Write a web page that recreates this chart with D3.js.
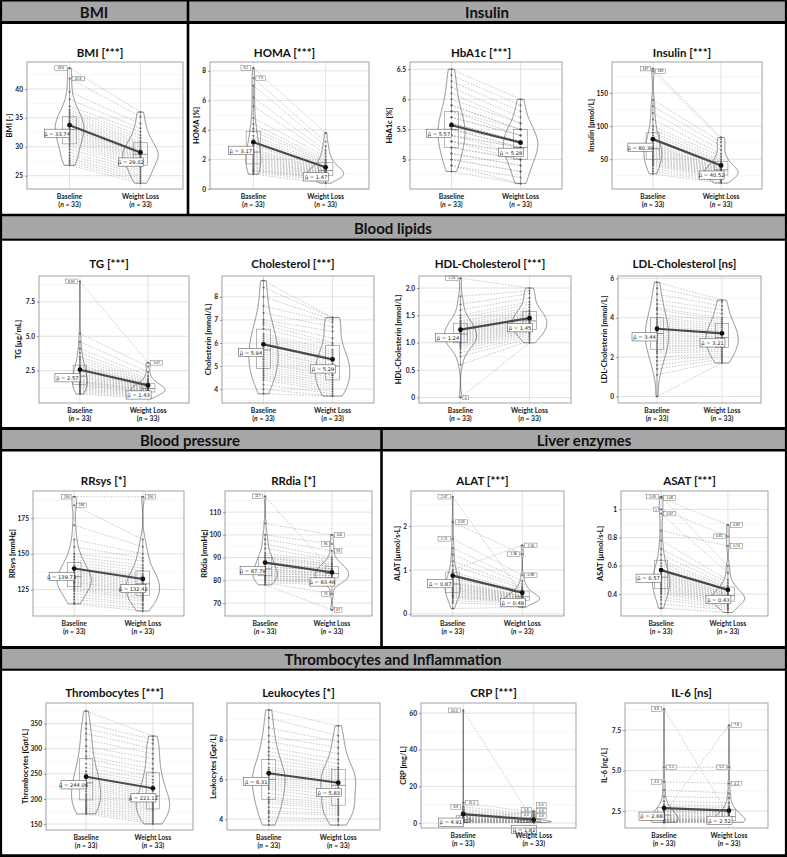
<!DOCTYPE html>
<html><head><meta charset="utf-8">
<script src="https://cdn.jsdelivr.net/npm/d3@7"></script>
<style>body{margin:0;background:#fff}svg{display:block}</style>
</head><body><svg id="c" width="787" height="857"></svg>
<script>
// ---------------- DATA ----------------
const groups = ["Baseline", "Weight Loss"];
const nPerGroup = [33, 33];

const bmiBase = [43.6,41.8,39.5,38.2,37.0,36.4,36.0,35.6,35.2,34.9,34.6,34.3,34.0,33.8,33.5,33.2,33.0,32.7,32.4,32.1,31.8,31.5,31.2,30.9,30.5,30.1,29.6,29.0,28.5,28.0,27.6,27.2,26.8];
const bmiWL   = [36.0,35.2,34.0,33.2,32.6,32.0,31.5,31.0,30.7,30.4,30.1,29.8,29.5,29.3,29.1,28.9,28.7,28.5,28.3,28.1,27.9,27.7,27.4,27.1,26.8,26.5,26.1,25.7,25.3,24.9,24.5,24.1,23.7];
const homaBase = [8.2,7.5,7.0,6.2,5.6,4.8,4.4,4.1,3.9,3.6,3.4,3.2,3.0,2.9,2.7,2.6,2.5,2.4,2.3,2.2,2.1,2.0,1.9,1.8,1.7,1.6,1.5,1.4,1.3,1.25,1.2,1.1,1.0];
const homaWL   = [3.8,3.2,2.9,2.6,2.4,2.2,2.0,1.9,1.8,1.7,1.6,1.5,1.45,1.4,1.35,1.3,1.25,1.2,1.15,1.1,1.05,1.0,1.0,0.95,0.9,0.9,0.85,0.8,0.8,0.75,0.7,0.6,0.4];
const hba1cBase = [6.5,6.4,6.3,6.2,6.1,6.0,5.9,5.9,5.8,5.8,5.7,5.7,5.6,5.6,5.6,5.5,5.5,5.5,5.4,5.4,5.4,5.3,5.3,5.3,5.2,5.2,5.1,5.1,5.0,5.0,4.9,4.9,4.8];
const hba1cWL   = [6.0,5.9,5.8,5.7,5.6,5.6,5.5,5.5,5.5,5.4,5.4,5.4,5.3,5.3,5.3,5.3,5.2,5.2,5.2,5.2,5.1,5.1,5.1,5.0,5.0,5.0,4.9,4.9,4.8,4.8,4.7,4.6,4.6];
const insBase = [187,183,140,130,120,110,100,95,90,86,82,78,75,72,70,68,66,64,62,60,58,56,54,52,50,48,46,44,42,40,36,32,28];
const insWL   = [83,80,76,70,64,58,54,50,47,45,43,41,39,37,36,35,34,33,32,31,30,29,28,27,26,25,24,23,22,20,18,16,14];
const tgBase = [8.99,5.2,4.6,4.1,3.8,3.5,3.3,3.1,2.9,2.8,2.7,2.6,2.5,2.4,2.3,2.2,2.1,2.0,1.9,1.8,1.75,1.7,1.65,1.6,1.5,1.45,1.4,1.3,1.2,1.1,1.0,0.9,0.8];
const tgWL   = [3.07,2.8,2.4,2.1,1.9,1.8,1.7,1.6,1.55,1.5,1.45,1.4,1.35,1.3,1.3,1.25,1.2,1.2,1.15,1.1,1.1,1.05,1.0,1.0,0.95,0.9,0.9,0.85,0.8,0.75,0.7,0.6,0.5];
const cholBase = [8.7,8.4,8.0,7.6,7.3,7.0,6.9,6.8,6.6,6.4,6.3,6.2,6.1,6.0,5.9,5.8,5.7,5.6,5.5,5.4,5.3,5.2,5.1,5.0,4.9,4.8,4.7,4.6,4.5,4.4,4.2,4.0,3.8];
const cholWL   = [7.1,7.1,7.0,6.9,6.7,6.5,6.2,6.0,5.9,5.7,5.6,5.5,5.4,5.3,5.2,5.1,5.0,5.0,4.9,4.8,4.7,4.6,4.6,4.5,4.4,4.3,4.2,4.1,4.0,3.9,3.8,3.7,3.7];
const hdlBase = [2.18,1.85,1.7,1.6,1.5,1.45,1.4,1.38,1.35,1.32,1.3,1.28,1.25,1.22,1.2,1.18,1.16,1.14,1.12,1.1,1.08,1.06,1.04,1.02,1.0,0.98,0.95,0.92,0.88,0.82,0.75,0.6,0];
const hdlWL   = [2.0,1.95,1.9,1.82,1.75,1.7,1.65,1.6,1.57,1.54,1.52,1.5,1.48,1.46,1.44,1.42,1.4,1.38,1.36,1.34,1.32,1.3,1.28,1.26,1.24,1.22,1.2,1.18,1.15,1.12,1.08,1.04,1.0];
const ldlBase = [5.8,5.5,5.2,4.9,4.7,4.5,4.4,4.2,4.0,3.9,3.8,3.7,3.6,3.5,3.4,3.3,3.2,3.1,3.0,2.9,2.8,2.7,2.6,2.5,2.4,2.3,2.2,2.0,1.8,1.6,1.4,1.1,0];
const ldlWL   = [4.9,4.8,4.6,4.4,4.2,4.0,3.9,3.8,3.7,3.6,3.5,3.4,3.3,3.3,3.2,3.1,3.0,3.0,2.9,2.8,2.8,2.7,2.6,2.6,2.5,2.4,2.3,2.2,2.1,2.0,1.9,1.8,1.7];
const rrsBase = [190,184,170,160,155,150,148,146,144,142,140,140,138,137,136,135,134,133,132,131,130,130,129,128,127,126,125,124,122,120,118,116,115];
const rrsWL   = [190,160,155,150,147,145,142,140,138,136,135,134,133,132,131,130,129,128,127,126,125,124,123,122,121,120,119,118,117,115,114,112,110];
const rrdBase = [117,105,100,98,96,94,92,91,90,90,89,88,88,87,86,86,85,85,84,84,83,83,82,82,82,81,81,80,80,80,79,79,78];
const rrdWL   = [84,100,96,93,90,89,88,87,87,86,86,85,85,85,84,84,83,83,83,82,82,82,81,81,81,80,80,80,79,79,78,74,67];
const alatBase = [2.67,2.09,1.71,1.5,1.35,1.2,1.1,1.0,0.95,0.9,0.85,0.8,0.78,0.75,0.72,0.7,0.68,0.65,0.62,0.6,0.58,0.55,0.53,0.5,0.48,0.45,0.42,0.4,0.38,0.35,0.3,0.25,0.12];
const alatWL   = [0.44,1.36,0.88,0.75,0.68,0.62,0.58,1.56,0.52,0.5,0.48,0.46,0.55,0.42,0.41,0.4,0.39,0.38,0.37,0.36,0.35,0.34,0.33,0.32,0.31,0.3,0.29,0.28,0.27,0.26,0.24,0.2,0.15];
const asatBase = [1.09,1.08,1.0,0.97,0.85,0.78,0.72,0.68,0.64,0.62,0.6,0.58,0.56,0.55,0.54,0.53,0.52,0.51,0.5,0.49,0.48,0.47,0.46,0.45,0.44,0.43,0.42,0.41,0.4,0.38,0.36,0.33,0.3];
const asatWL   = [0.6,0.89,0.81,0.55,0.74,0.5,0.48,0.46,0.45,0.44,0.43,0.42,0.41,0.4,0.4,0.39,0.39,0.38,0.38,0.37,0.37,0.36,0.36,0.35,0.35,0.34,0.34,0.33,0.32,0.31,0.3,0.29,0.27];
const thrBase = [375,350,340,330,318,305,295,285,280,270,262,255,250,245,240,236,232,228,224,220,215,210,206,202,198,194,190,186,182,179,176,173,170];
const thrWL   = [325,318,310,300,290,280,270,260,252,245,238,232,226,220,215,210,206,202,198,195,192,189,186,183,180,177,174,170,166,162,158,154,150];
const leuBase = [9.5,9.1,8.6,8.2,7.9,7.6,7.4,7.2,7.0,6.8,6.6,6.5,6.4,6.3,6.2,6.1,6.0,5.9,5.8,5.7,5.6,5.5,5.3,5.1,5.0,4.9,4.8,4.6,4.4,4.3,4.1,3.9,3.7];
const leuWL   = [8.7,8.2,7.9,7.6,7.3,7.0,6.8,6.6,6.5,6.4,6.3,6.2,6.1,6.0,5.9,5.8,5.7,5.6,5.5,5.4,5.2,5.0,4.9,4.8,4.7,4.6,4.5,4.4,4.3,4.2,4.0,3.9,3.7];
const crpBase = [61.5,11.1,8.8,7.5,6.5,5.8,5.0,4.5,4.0,3.6,3.2,2.9,2.6,2.4,2.2,2.0,1.8,1.7,1.6,1.5,1.4,1.3,1.2,1.1,1.0,0.9,0.8,0.7,0.6,0.5,0.45,0.4,0.3];
const crpWL   = [0.9,5.8,4.8,4.3,3.8,3.0,2.6,2.2,2.0,1.8,1.6,1.5,1.4,1.3,1.2,1.1,1.0,0.95,6.6,0.85,0.8,0.75,0.7,0.65,0.6,0.55,0.5,0.5,0.45,0.4,0.4,0.35,0.3];
const il6Base = [8.8,5.2,4.3,3.8,3.4,3.1,2.9,2.8,2.7,2.6,2.55,2.5,2.45,2.4,2.35,2.3,2.25,2.2,2.15,2.1,2.05,2.0,2.0,1.95,1.95,1.9,1.9,1.9,1.85,1.85,1.8,1.8,1.8];
const il6WL   = [2.2,5.2,4.2,3.6,3.3,3.0,2.8,2.7,2.6,2.5,2.45,2.4,2.35,2.3,7.8,2.25,2.15,2.1,2.05,2.0,2.0,1.95,1.95,1.9,1.9,1.9,1.85,1.85,1.85,1.8,1.8,1.8,1.8];

// group means (as printed)
const means = {
  bmi:[33.74,29.02], homa:[3.17,1.47], hba1c:[5.57,5.28], ins:[80.39,40.52],
  tg:[2.57,1.43], chol:[5.94,5.29], hdl:[1.24,1.45], ldl:[3.44,3.21],
  rrs:[139.73,132.42], rrd:[87.79,83.48], alat:[0.87,0.48], asat:[0.57,0.43],
  thr:[244.06,221.12], leu:[6.31,5.83], crp:[4.91,1.82], il6:[2.68,2.52]
};
// labelled outliers [baseline, weight loss]
const outliers = {
  bmi:[[43.6,41.8],[]], homa:[[8.2,7.5],[]], hba1c:[[],[]], ins:[[187,183],[]],
  tg:[[8.99],[3.07]], chol:[[],[]], hdl:[[2.18,0],[]], ldl:[[],[]],
  rrs:[[190,184],[190]], rrd:[[117],[100,96,93,74,67]],
  alat:[[2.67,2.09,1.71],[1.56,1.36,0.88]], asat:[[1.09,1.08,1,0.97],[0.89,0.81,0.74]],
  thr:[[],[]], leu:[[],[]], crp:[[61.5,11.1,8.8],[6.6,5.8,4.8,4.3,3.8]], il6:[[8.8,5.2,4.3],[7.8,5.2,4.2]]
};
// y tick values + labels
const yTicks = {
  bmi:[25,30,35,40], homa:[0,2,4,6,8], hba1c:[5,5.5,6,6.5], ins:[50,100,150],
  tg:[2.5,5,7.5], chol:[4,5,6,7,8], hdl:[0,0.5,1,1.5,2], ldl:[0,2,4,6],
  rrs:[125,150,175], rrd:[70,80,90,100,110], alat:[0,1,2], asat:[0.4,0.6,0.8,1],
  thr:[150,200,250,300,350], leu:[4,6,8], crp:[0,20,40,60], il6:[2.5,5,7.5]
};
const yTickLabels = {
  tg:["2.5","5.0","7.5"], hdl:["0","0.5","1.0","1.5","2.0"], il6:["2.5","5.0","7.5"]
};

// ---------------- LAYOUT ----------------
const panels = [
  {k:"bmi", base:bmiBase, wl:bmiWL, title:"BMI [***]", ylab:"BMI [-]", box:[27,183,62,189], dom:[22.7,44.66], ty:52},
  {k:"homa", base:homaBase, wl:homaWL, title:"HOMA [***]", ylab:"HOMA [%]", box:[210,369,62,189], dom:[0.0,8.6], ty:52},
  {k:"hba1c", base:hba1cBase, wl:hba1cWL, title:"HbA1c [***]", ylab:"HbA1c [%]", box:[410,562,62,189], dom:[4.51,6.62], ty:52},
  {k:"ins", base:insBase, wl:insWL, title:"Insulin [***]", ylab:"Insulin [pmol/L]", box:[612,762,62,189], dom:[5,197], ty:52},
  {k:"tg", base:tgBase, wl:tgWL, title:"TG [***]", ylab:"TG [\u00b5g/mL]", box:[39,189,276,403], dom:[0.15,9.38], ty:263},
  {k:"chol", base:cholBase, wl:cholWL, title:"Cholesterol [***]", ylab:"Cholesterin [mmol/L]", box:[222,374,276,403], dom:[3.4,8.9], ty:263},
  {k:"hdl", base:hdlBase, wl:hdlWL, title:"HDL-Cholesterol [***]", ylab:"HDL-Cholesterin [mmol/L]", box:[419,571,276,403], dom:[-0.1,2.22], ty:263},
  {k:"ldl", base:ldlBase, wl:ldlWL, title:"LDL-Cholesterol [ns]", ylab:"LDL-Cholesterin [mmol/L]", box:[618,761,276,403], dom:[-0.33,6.12], ty:263},
  {k:"rrs", base:rrsBase, wl:rrsWL, title:"RRsys [*]", ylab:"RRsys [mmHg]", box:[33,184,491,616], dom:[106.5,194], ty:480},
  {k:"rrd", base:rrdBase, wl:rrdWL, title:"RRdia [*]", ylab:"RRdia [mmHg]", box:[225,372,491,616], dom:[64.3,119.3], ty:480},
  {k:"alat", base:alatBase, wl:alatWL, title:"ALAT [***]", ylab:"ALAT [\u00b5mol/s\u00b7L]", box:[411,564,491,616], dom:[-0.05,2.8], ty:480},
  {k:"asat", base:asatBase, wl:asatWL, title:"ASAT [***]", ylab:"ASAT [\u00b5mol/s\u00b7L]", box:[621,768,491,616], dom:[0.245,1.13], ty:480},
  {k:"thr", base:thrBase, wl:thrWL, title:"Thrombocytes [***]", ylab:"Thrombocytes [Gpt/L]", box:[46,193,703,830], dom:[138,391], ty:692},
  {k:"leu", base:leuBase, wl:leuWL, title:"Leukocytes [*]", ylab:"Leukocytes [Gpt/L]", box:[227,380,703,830], dom:[3.45,9.85], ty:692},
  {k:"crp", base:crpBase, wl:crpWL, title:"CRP [***]", ylab:"CRP [mg/L]", box:[421,576,703,828], dom:[-2.7,65.5], ty:692},
  {k:"il6", base:il6Base, wl:il6WL, title:"IL-6 [ns]", ylab:"IL-6 [ng/L]", box:[625,768,703,828], dom:[1.45,9.17], ty:692}
];

const FONT = "Lato, 'Open Sans', sans-serif";
const svg = d3.select("#c");

// ---------------- FRAMES / SECTION HEADERS ----------------
const headerBands = [[1,21.5],[216,238.5],[429.5,449],[648.5,668.5]];
headerBands.forEach(b => svg.append("rect").attr("x",0).attr("y",b[0]).attr("width",787).attr("height",b[1]-b[0]).attr("fill","#a6a6a6"));
const hLines = [[0.8,1.6],[22.6,3],[215,2.6],[239.6,2.4],[428.4,3],[450.2,2.4],[647.4,3],[669.6,2.4],[855.6,2.8]];
hLines.forEach(l => svg.append("line").attr("x1",0).attr("x2",787).attr("y1",l[0]).attr("y2",l[0]).attr("stroke","#000").attr("stroke-width",l[1]));
[[1,0,857,2.2],[786,0,857,2.2],[188,0,215,2.6],[381.5,428,648,2.6]].forEach(v =>
  svg.append("line").attr("x1",v[0]).attr("x2",v[0]).attr("y1",v[1]).attr("y2",v[2]).attr("stroke","#000").attr("stroke-width",v[3]));
const headers = [
  {t:"BMI", x:94, y:11.5}, {t:"Insulin", x:487, y:11.5}, {t:"Blood lipids", x:393, y:227.5},
  {t:"Blood pressure", x:190, y:439.5}, {t:"Liver enzymes", x:584, y:439.5},
  {t:"Thrombocytes and Inflammation", x:393, y:658.5}
];
headers.forEach(h => svg.append("text").attr("x",h.x).attr("y",h.y).attr("text-anchor","middle")
  .attr("dominant-baseline","central").attr("font-family",FONT).attr("font-weight","bold")
  .attr("font-size",15).attr("fill","#111").text(h.t));

// ---------------- HELPERS ----------------
function density(vals){
  const s = vals.slice().sort(d3.ascending), n = s.length;
  const sd = d3.deviation(s);
  const iqr = d3.quantile(s,0.75) - d3.quantile(s,0.25);
  let lo = Math.min(sd, iqr/1.34);
  if (!(lo > 0)) lo = sd || 1;
  const bw = 0.9*lo*Math.pow(n,-0.2);
  const mn = s[0], mx = s[n-1], out = [];
  for (let i=0;i<256;i++){
    const yv = mn + (mx-mn)*i/255; let d = 0;
    for (const v of s){ const z=(yv-v)/bw; d += Math.exp(-0.5*z*z); }
    out.push([yv, d/(n*bw*Math.sqrt(2*Math.PI))]);
  }
  return out;
}

function drawPanel(p){
  const g = svg.append("g");
  const [x0,x1,y0,y1] = p.box;
  const x = d3.scaleLinear().domain([0.4,2.6]).range([x0,x1]);
  const y = d3.scaleLinear().domain(p.dom).range([y1,y0]);
  const ticks = yTicks[p.k];
  const tlab = yTickLabels[p.k] || ticks.map(String);
  const step = ticks[1]-ticks[0];
  const minors = [];
  for (let i=-1;i<ticks.length+1;i++){ const v = ticks[0] + step*(i+0.5); if (v>p.dom[0] && v<p.dom[1]) minors.push(v); }

  g.append("rect").attr("x",x0).attr("y",y0).attr("width",x1-x0).attr("height",y1-y0).attr("fill","#fff");
  g.selectAll(".mn").data(minors).join("line").attr("x1",x0).attr("x2",x1).attr("y1",d=>y(d)).attr("y2",d=>y(d))
    .attr("stroke","#ececec").attr("stroke-width",0.5);
  g.selectAll(".mj").data(ticks.filter(t=>t>=p.dom[0]&&t<=p.dom[1])).join("line").attr("x1",x0).attr("x2",x1).attr("y1",d=>y(d)).attr("y2",d=>y(d))
    .attr("stroke","#d6d6d6").attr("stroke-width",0.7);
  g.selectAll(".vg").data([1,2]).join("line").attr("x1",d=>x(d)).attr("x2",d=>x(d)).attr("y1",y0).attr("y2",y1)
    .attr("stroke","#d6d6d6").attr("stroke-width",0.7);

  const sets = [p.base, p.wl];
  g.selectAll(".pl").data(p.base.map((b,i)=>[b,p.wl[i]])).join("line")
    .attr("x1",x(1)).attr("x2",x(2)).attr("y1",d=>y(d[0])).attr("y2",d=>y(d[1]))
    .attr("stroke","#9d9d9d").attr("stroke-width",0.55).attr("stroke-dasharray","1.6,1.4");

  const dens = sets.map(density);
  const maxD = d3.max(dens, d => d3.max(d, e => e[1]));
  const unit = x(2)-x(1);
  dens.forEach((d,gi) => {
    const cx = x(gi+1);
    const area = d3.area().y(e=>y(e[0])).x0(e=>cx - e[1]/maxD*0.25*unit).x1(e=>cx + e[1]/maxD*0.25*unit);
    g.append("path").attr("d",area(d)).attr("fill","none").attr("stroke","#333").attr("stroke-width",0.55);
  });

  sets.forEach((vals,gi) => {
    const s = vals.slice().sort(d3.ascending);
    const q1 = d3.quantile(s,0.25), q2 = d3.quantile(s,0.5), q3 = d3.quantile(s,0.75), iqr = q3-q1;
    const lo = d3.min(s.filter(v=>v>=q1-1.5*iqr)), hi = d3.max(s.filter(v=>v<=q3+1.5*iqr));
    const cx = x(gi+1), hw = 0.1*unit;
    g.append("line").attr("x1",cx).attr("x2",cx).attr("y1",y(q3)).attr("y2",y(hi)).attr("stroke","#777").attr("stroke-width",0.6);
    g.append("line").attr("x1",cx).attr("x2",cx).attr("y1",y(q1)).attr("y2",y(lo)).attr("stroke","#777").attr("stroke-width",0.6);
    g.append("rect").attr("x",cx-hw).attr("y",y(q3)).attr("width",2*hw).attr("height",y(q1)-y(q3))
      .attr("fill","none").attr("stroke","#888").attr("stroke-width",0.6);
    g.append("line").attr("x1",cx-hw).attr("x2",cx+hw).attr("y1",y(q2)).attr("y2",y(q2)).attr("stroke","#777").attr("stroke-width",0.8);
  });

  sets.forEach((vals,gi) => {
    g.selectAll(".pt"+gi).data(vals).join("circle").attr("cx",x(gi+1)).attr("cy",d=>y(d)).attr("r",1.05)
      .attr("fill","#555").attr("fill-opacity",0.75);
  });

  const m = means[p.k];
  g.append("line").attr("x1",x(1)).attr("x2",x(2)).attr("y1",y(m[0])).attr("y2",y(m[1]))
    .attr("stroke","#4a4a4a").attr("stroke-width",2.2);
  m.forEach((v,gi) => g.append("circle").attr("cx",x(gi+1)).attr("cy",y(v)).attr("r",2.4).attr("fill","#111"));

  const meanBoxes = [];
  m.forEach((v,gi) => {
    const t = "\u03bc\u0302 = " + v.toFixed(2);
    const w = 25, h = 8.2;
    const cx = x(gi+1), cy = y(v);
    const lx = gi===0 ? cx-w : cx-22, ly = gi===0 ? cy+4 : cy+5.5;
    meanBoxes.push([lx, ly, w, h, t]);
  });

  outliers[p.k].forEach((arr,gi) => {
    const cx = x(gi+1);
    const sorted = arr.slice().sort((a,b)=>b-a);
    const items = sorted.map((v,j) => ({v, side: (gi===0 ? (j%2===0 ? -1 : 1) : (j%2===0 ? 1 : -1))}));
    [-1,1].forEach(side => {
      const its = items.filter(d=>d.side===side).sort((a,b)=>a.v-b.v);
      let prev = Infinity;
      its.forEach(d => {
        let cy = Math.min(y(d.v), prev - 5.6);
        prev = cy;
        const t = String(d.v), w = t.length*2.3+3, h = 4.6;
        const lx = side<0 ? cx-w-2.5 : cx+2.5;
        g.append("rect").attr("x",lx).attr("y",cy-h/2).attr("width",w).attr("height",h)
          .attr("fill","#fff").attr("stroke","#555").attr("stroke-width",0.4);
        g.append("text").attr("x",lx+w/2).attr("y",cy+0.2).attr("text-anchor","middle").attr("dominant-baseline","central")
          .attr("font-family","'Liberation Sans', sans-serif").attr("font-size",3.4).attr("fill","#222").text(t);
      });
    });
  });

  meanBoxes.forEach(([lx,ly,w,h,t]) => {
    g.append("rect").attr("x",lx).attr("y",ly).attr("width",w).attr("height",h)
      .attr("fill","#fff").attr("stroke","#444").attr("stroke-width",0.5);
    g.append("text").attr("x",lx+w/2).attr("y",ly+h/2+0.3).attr("text-anchor","middle").attr("dominant-baseline","central")
      .attr("font-family","'DejaVu Sans', sans-serif").attr("font-size",5.2).attr("fill","#222").text(t);
  });

  g.append("rect").attr("x",x0).attr("y",y0).attr("width",x1-x0).attr("height",y1-y0)
    .attr("fill","none").attr("stroke","#8a8a8a").attr("stroke-width",0.8);

  const ax = g.append("g").attr("transform",`translate(${x0},0)`)
    .call(d3.axisLeft(y).tickValues(ticks).tickFormat((d,i)=>tlab[i]).tickSize(2).tickPadding(2));
  ax.select(".domain").remove();
  ax.selectAll("line").attr("stroke","#555").attr("stroke-width",0.6);
  ax.selectAll("text").attr("font-family",FONT).attr("font-weight","bold").attr("font-size",6.6).attr("fill","#222");
  const tw = d3.max(tlab, s => s.length)*3.4;
  g.append("text").attr("transform",`translate(${x0-5-tw-6},${(y0+y1)/2}) rotate(-90)`)
    .attr("text-anchor","middle").attr("dominant-baseline","central")
    .attr("font-family",FONT).attr("font-weight","bold").attr("font-size",7.6).attr("fill","#111").text(p.ylab);

  groups.forEach((gname,gi) => {
    g.append("text").attr("x",x(gi+1)).attr("y",y1+7).attr("text-anchor","middle").attr("dominant-baseline","central")
      .attr("font-family",FONT).attr("font-weight","bold").attr("font-size",6.8).attr("fill","#222").text(gname);
    const t2 = g.append("text").attr("x",x(gi+1)).attr("y",y1+15).attr("text-anchor","middle").attr("dominant-baseline","central")
      .attr("font-family",FONT).attr("font-weight","bold").attr("font-size",6.8).attr("fill","#222");
    t2.append("tspan").text("(");
    t2.append("tspan").attr("font-style","italic").text("n");
    t2.append("tspan").text(" = " + nPerGroup[gi] + ")");
  });

  g.append("text").attr("x",(x0+x1)/2-5).attr("y",p.ty).attr("text-anchor","middle").attr("dominant-baseline","central")
    .attr("font-family",FONT).attr("font-weight","bold").attr("font-size",11.5).attr("fill","#111").text(p.title);
}

panels.forEach(drawPanel);
</script>
</body></html>
